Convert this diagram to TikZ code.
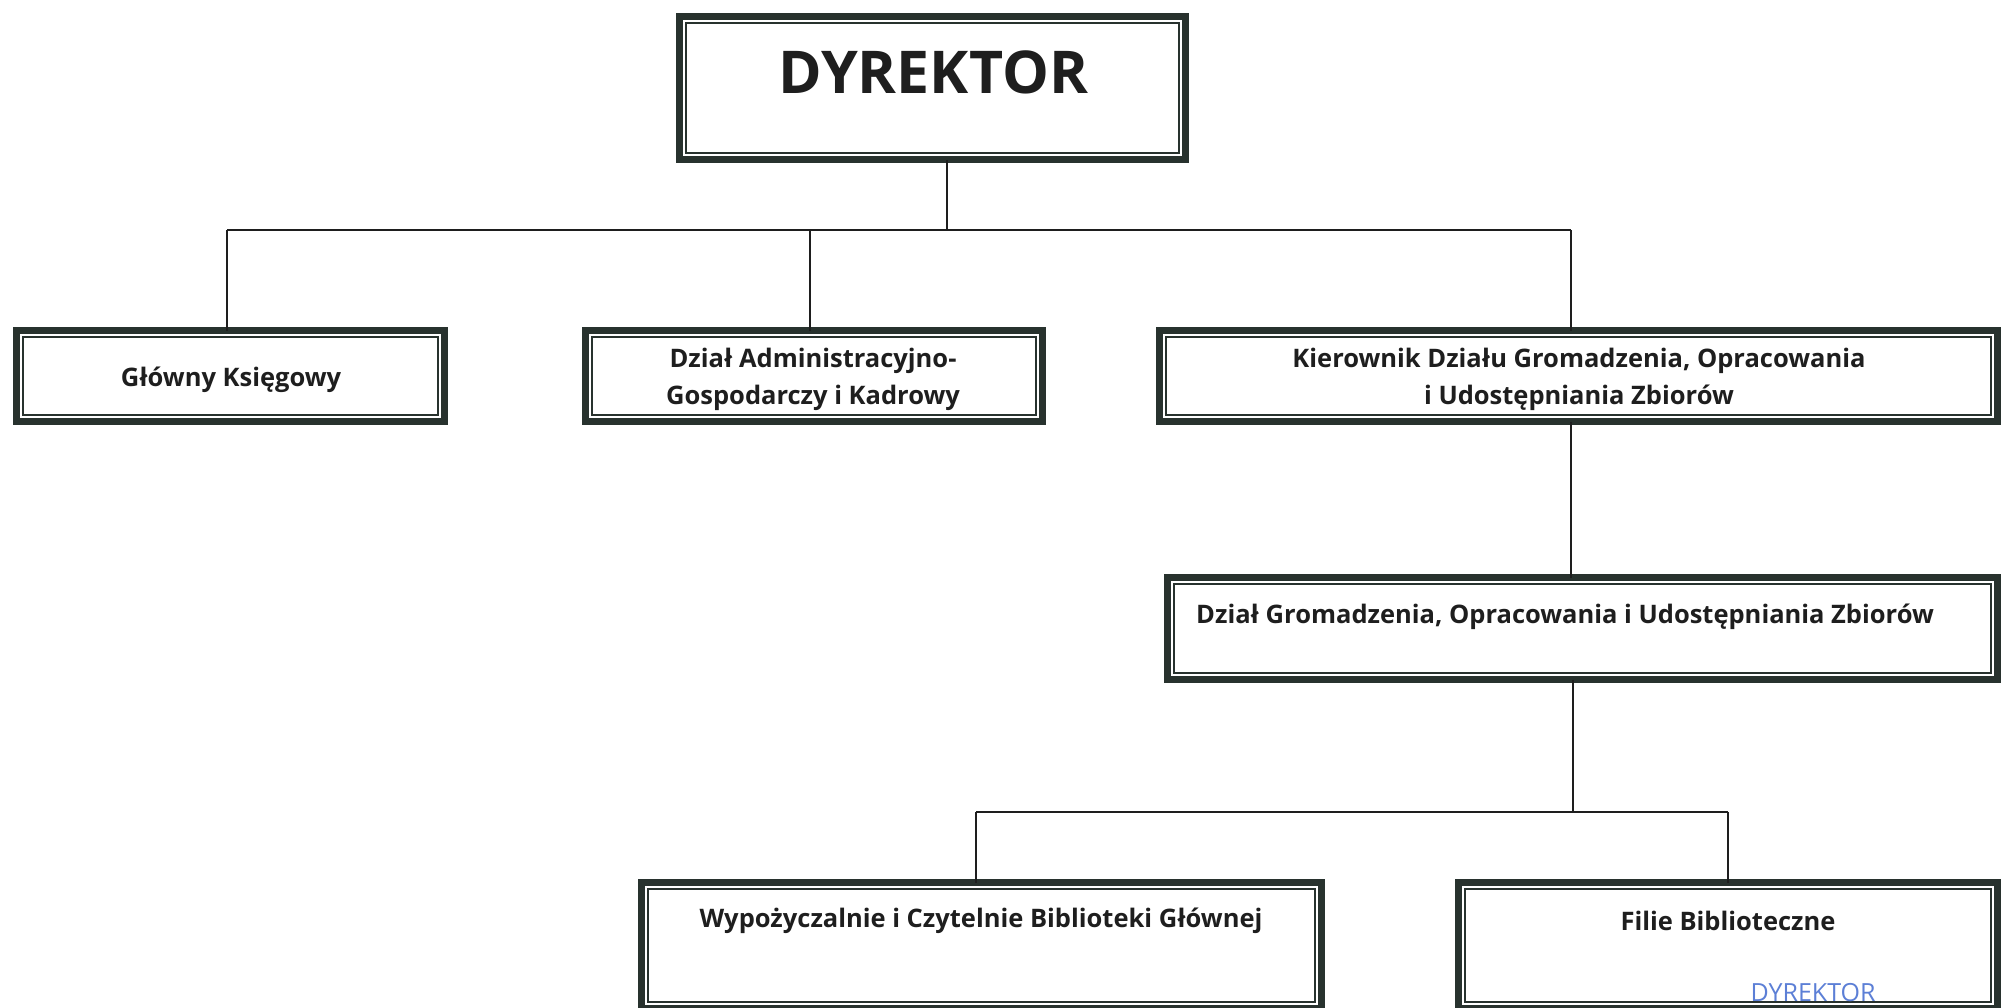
\documentclass[tikz,border=0pt]{standalone}
\usepackage{fontspec}
\setmainfont{Open Sans}
\usetikzlibrary{calc}
\definecolor{frame}{HTML}{28322E}
\definecolor{ink}{HTML}{1E1E1E}
\definecolor{stampblue}{HTML}{5C7FD6}
\tikzset{
  box/.style={draw=frame, line width=7pt, fill=white, inner sep=0pt, outer sep=0pt, anchor=north west},
  inner/.style={draw=frame, line width=2pt},
  conn/.style={draw=ink, line width=2pt},
  lbl/.style={text=ink, font=\bfseries\fontsize{25.5}{37}\selectfont, inner sep=0pt, align=center},
}
\newcommand{\frm}[1]{\draw[inner] ($(#1.north west)+(6.5,6.5)$) rectangle ($(#1.south east)+(-6.5,-6.5)$);}
\begin{document}
\begin{tikzpicture}[x=1pt,y=-1pt]
\useasboundingbox (0,0) rectangle (2001,1007);
\fill[white] (0,0) rectangle (2001,1007);
% boxes (coordinates = line centre, outer edge minus 3.5)
\node[box, minimum width=506pt, minimum height=143pt] (dyr) at (679.5,16.5) {};
\node[box, minimum width=428pt, minimum height=91pt] (gk) at (16.5,330.5) {};
\node[box, minimum width=457pt, minimum height=91pt] (dak) at (585.5,330.5) {};
\node[box, minimum width=838pt, minimum height=91pt] (kdg) at (1159.5,330.5) {};
\node[box, minimum width=830pt, minimum height=102pt] (dgo) at (1167.5,577.5) {};
\node[box, minimum width=680pt, minimum height=126pt] (wcz) at (641.5,882.5) {};
\node[box, minimum width=539pt, minimum height=126pt] (fil) at (1458.5,882.5) {};
\frm{dyr}\frm{gk}\frm{dak}\frm{kdg}\frm{dgo}\frm{wcz}\frm{fil}
% texts
\node[lbl, font=\bfseries\fontsize{59}{60}\selectfont] (dyrT) at (933,72) {DYREKTOR};
\node[lbl] (gkT) at (231,380) {Główny Księgowy};
\node[lbl] (dakT) at (813,379) {Dział Administracyjno-\\Gospodarczy i Kadrowy};
\node[lbl] (kdgT) at (1579,379) {Kierownik Działu Gromadzenia, Opracowania\\i Udostępniania Zbiorów};
\node[lbl, anchor=west] (dgoT) at (1196,617) {Dział Gromadzenia, Opracowania i Udostępniania Zbiorów};
\node[lbl] (wczT) at (981,921) {Wypożyczalnie i Czytelnie Biblioteki Głównej};
\node[lbl] (filT) at (1728,921) {Filie Biblioteczne};
\node[text=stampblue, font=\fontsize{25}{27}\selectfont, inner sep=0pt, anchor=north] (stamp) at (1813,983) {DYREKTOR};
% connectors
\coordinate (j0) at (947,230);
\coordinate (jL) at (227,230);
\coordinate (jR) at (1571,230);
\coordinate (jM) at (810,230);
\coordinate (j2) at (1573,812);
\coordinate (j2L) at (976,812);
\coordinate (j2R) at (1728,812);
\draw[conn] (dyr.south -| j0) -- (j0);
\draw[conn] (jL) -- (jR);
\draw[conn] (jL) -- (gk.north -| jL);
\draw[conn] (jM) -- (dak.north -| jM);
\draw[conn] (jR) -- (kdg.north -| jR);
\draw[conn] (kdg.south -| jR) -- (dgo.north -| jR);
\draw[conn] (dgo.south -| j2) -- (j2);
\draw[conn] (j2L) -- (j2R);
\draw[conn] (j2L) -- (wcz.north -| j2L);
\draw[conn] (j2R) -- (fil.north -| j2R);
\end{tikzpicture}
\end{document}
